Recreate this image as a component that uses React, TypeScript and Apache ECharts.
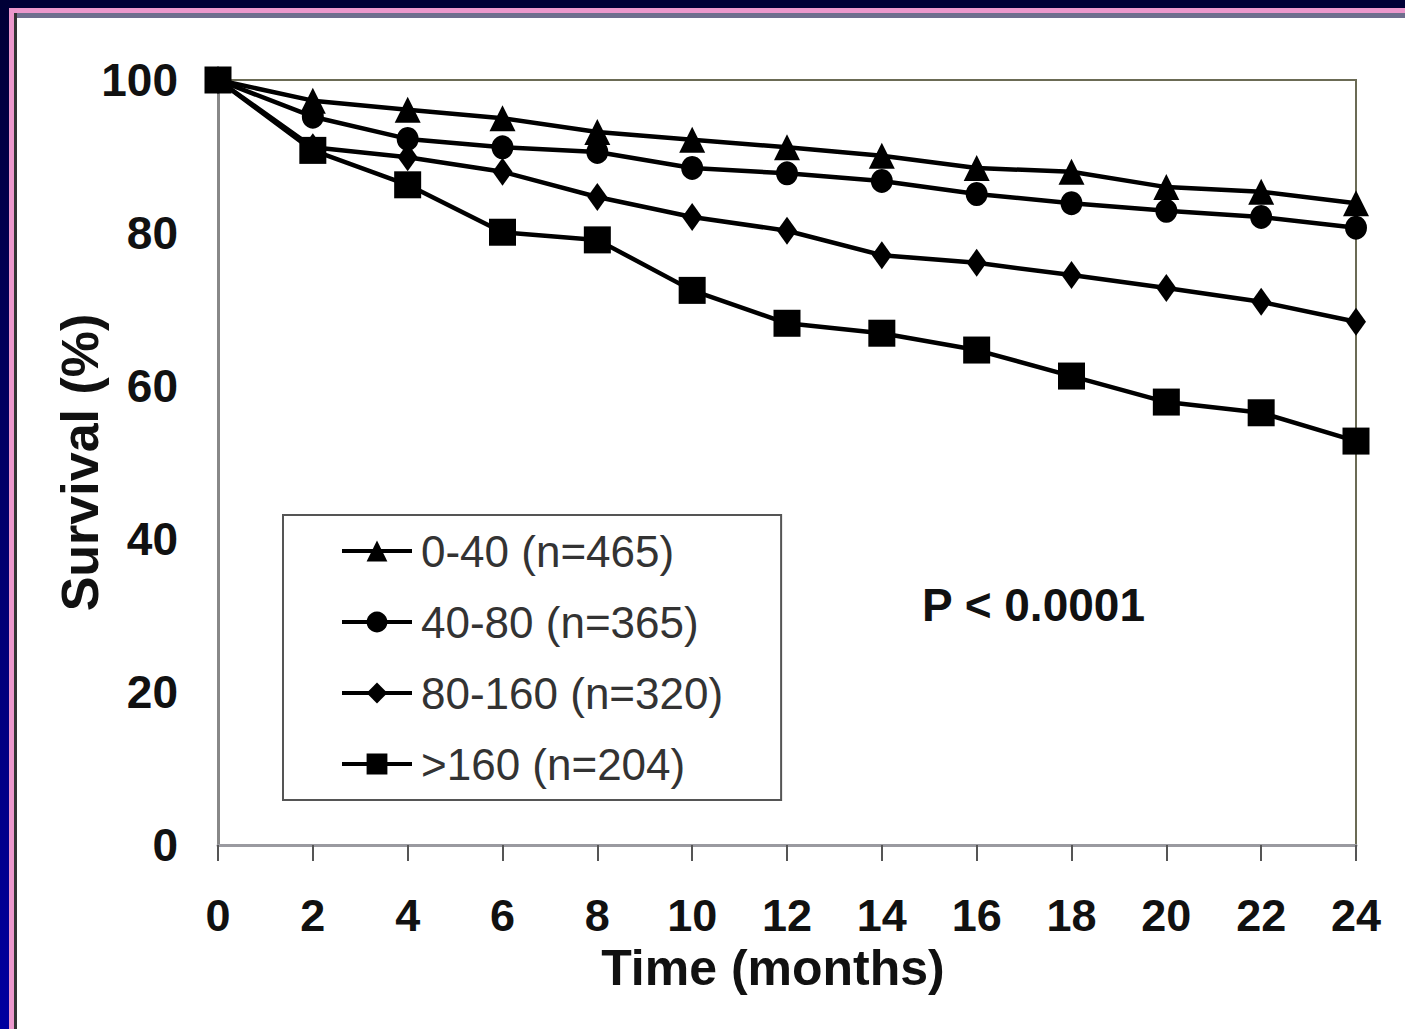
import React, { useEffect, useRef } from "react";
import * as echarts from "echarts";

const months = [0, 2, 4, 6, 8, 10, 12, 14, 16, 18, 20, 22, 24];
const seriesNames = ["0-40 (n=465)", "40-80 (n=365)", "80-160 (n=320)", ">160 (n=204)"];
const survival0to40 = [100, 97.3, 96.1, 95.0, 93.2, 92.2, 91.2, 90.1, 88.5, 88.0, 86.0, 85.4, 83.9];
const survival40to80 = [100, 95.2, 92.3, 91.2, 90.6, 88.5, 87.8, 86.8, 85.1, 83.9, 82.9, 82.1, 80.7];
const survival80to160 = [100, 91.2, 89.9, 88.0, 84.7, 82.1, 80.3, 77.1, 76.1, 74.5, 72.8, 71.0, 68.4];
const survivalOver160 = [100, 90.8, 86.3, 80.1, 79.1, 72.5, 68.2, 66.9, 64.7, 61.3, 57.9, 56.5, 52.8];
const yTicks = [0, 20, 40, 60, 80, 100];
const pValueText = "P < 0.0001";

const FONT = "'Liberation Sans', Arial, sans-serif";

export default function App() {
  const ref = useRef<HTMLDivElement>(null);

  useEffect(() => {
    document.body.style.margin = "0";
    const chart = echarts.init(ref.current!, null, { renderer: "svg" });
    const all = [survival0to40, survival40to80, survival80to160, survivalOver160];
    const symbols = ["triangle", "circle", "diamond", "rect"];
    const sizes: any[] = [[26, 26], [22, 24], [20, 28], [27, 27]];
    const series = all.map((vals, i) => ({
      name: seriesNames[i],
      type: "line",
      data: months.map((m, j) => [m, vals[j]]),
      symbol: symbols[i],
      symbolSize: sizes[i],
      showSymbol: true,
      lineStyle: { color: "#000", width: 4.5 },
      itemStyle: { color: "#000" },
      z: 3 + i,
    }));

    chart.setOption({
      animation: false,
      backgroundColor: "#fff",
      textStyle: { fontFamily: FONT },
      grid: {
        left: 218,
        right: 49,
        top: 80,
        bottom: 184,
        show: true,
        borderColor: "#6b6b55",
        borderWidth: 2,
        backgroundColor: "transparent",
      },
      xAxis: {
        type: "value",
        min: 0,
        max: 24,
        interval: 2,
        axisLine: { show: true, onZero: false, lineStyle: { color: "#9a9aa0", width: 3 } },
        axisTick: { show: true, inside: false, length: 16, lineStyle: { color: "#555", width: 2 } },
        splitLine: { show: false },
        axisLabel: {
          margin: 48,
          fontSize: 45,
          fontWeight: "bold",
          color: "#111",
          fontFamily: FONT,
          lineHeight: 44,
        },
        name: "Time (months)",
        nameLocation: "middle",
        nameGap: 98,
        nameMoveOverlap: false,
        nameTextStyle: {
          fontSize: 50,
          fontWeight: "bold",
          color: "#111",
          fontFamily: FONT,
          lineHeight: 50,
          padding: [0, 28, 0, 0],
        },
      },
      yAxis: {
        type: "value",
        min: 0,
        max: 100,
        interval: 20,
        axisLine: { show: true, lineStyle: { color: "#888", width: 3 } },
        axisTick: { show: false },
        splitLine: { show: false },
        axisLabel: {
          margin: 40,
          fontSize: 46,
          fontWeight: "bold",
          color: "#111",
          fontFamily: FONT,
          formatter: (v: number) => (yTicks.includes(v) ? String(v) : ""),
        },
        name: "Survival (%)",
        nameLocation: "middle",
        nameRotate: 90,
        nameGap: 112,
        nameMoveOverlap: false,
        nameTextStyle: {
          fontSize: 52,
          fontWeight: "bold",
          color: "#111",
          fontFamily: FONT,
          lineHeight: 52,
        },
      },
      legend: {
        show: true,
        orient: "vertical",
        left: 283,
        top: 515,
        data: seriesNames,
        backgroundColor: "#fff",
        borderColor: "#555",
        borderWidth: 2,
        padding: [14, 58, 14, 57],
        itemWidth: 70,
        itemHeight: 26,
        itemGap: 27,
        lineStyle: { width: 4, color: "#000", type: "solid" },
        textStyle: {
          fontSize: 44,
          color: "#333",
          fontFamily: FONT,
          lineHeight: 44,
          padding: [0, 0, 0, 4],
        },
        selectedMode: false,
      },
      graphic: [
        {
          type: "text",
          left: 922,
          top: 582,
          style: {
            text: pValueText,
            fontSize: 46,
            fontWeight: "bold",
            fill: "#111",
            fontFamily: FONT,
          },
          z: 10,
        },
        { type: "rect", shape: { x: 0, y: 0, width: 1405, height: 8 }, style: { fill: "#000036" }, z: 20 },
        {
          type: "rect",
          shape: { x: 0, y: 0, width: 9, height: 1029 },
          style: {
            fill: new echarts.graphic.LinearGradient(0, 0, 0, 1, [
              { offset: 0, color: "#000036" },
              { offset: 1, color: "#0000a0" },
            ]),
          },
          z: 20,
        },
        { type: "rect", shape: { x: 9, y: 8, width: 1396, height: 5 }, style: { fill: "#ec98cc" }, z: 20 },
        { type: "rect", shape: { x: 9, y: 8, width: 5, height: 1021 }, style: { fill: "#ec98cc" }, z: 20 },
        { type: "rect", shape: { x: 14, y: 13, width: 1391, height: 5 }, style: { fill: "#6f6f8e" }, z: 20 },
        { type: "rect", shape: { x: 14, y: 13, width: 3, height: 1016 }, style: { fill: "#333" }, z: 20 },
      ],
      series,
    });
    return () => chart.dispose();
  }, []);

  return <div ref={ref} style={{ width: 1405, height: 1029 }} />;
}
